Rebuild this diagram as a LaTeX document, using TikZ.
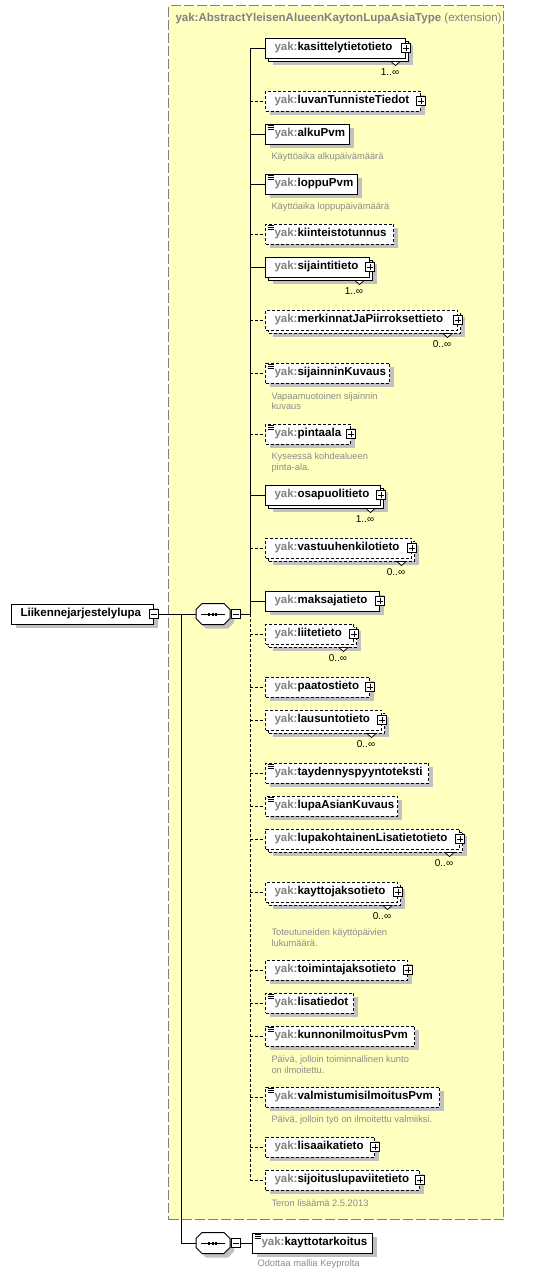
\documentclass[tikz,border=0pt]{standalone}
\usepackage{fontspec}
\setmainfont{Liberation Sans}
\usepackage{xcolor}
\usetikzlibrary{positioning}

\definecolor{nsgray}{HTML}{808080}
\definecolor{docgray}{HTML}{8C8C8C}
\definecolor{extyellow}{HTML}{FFFFC0}
\definecolor{shadowgray}{HTML}{C0C0C0}

\newlength\pix
\setlength\pix{0.75pt}
\newcommand\yak[2]{\hbox to #1\pix{\hskip9\pix\textcolor{nsgray}{yak:}#2\hfil}}

\begin{document}
\begin{tikzpicture}[x=0.75pt, y=-0.75pt, line width=0.75pt,
    boxshade/.style = {preaction={draw=none, fill=shadowgray,
                                  transform canvas={shift={(4,4)}}}},
    elem/.style = {rectangle, draw, fill=white, anchor=west, inner sep=0pt,
                   minimum height=15pt, boxshade,
                   font=\fontsize{8.65}{10}\selectfont\bfseries},
    opt/.style = {dash pattern=on 2.25pt off 1.5pt},
    stacked/.style = {preaction={draw=none, fill=shadowgray,
                                 transform canvas={shift={(7,7)}}},
                      preaction={draw, fill=white,
                                 transform canvas={shift={(3,3)}}}},
    simple/.style = {path picture={
        \foreach \k in {1,2,3}
            \draw[line width=0.6pt, solid]
                ([shift={(2,\k*1.7)}]path picture bounding box.north west) -- ++(6,0);}},
    iconbox/.style = {rectangle, draw, solid, fill=white, minimum size=6.75pt,
                      inner sep=0pt, line width=0.6pt},
    plusbox/.style = {iconbox, path picture={
        \draw ([xshift=-2.25pt]path picture bounding box.center)
           -- ([xshift=2.25pt]path picture bounding box.center);
        \draw ([yshift=-2.25pt]path picture bounding box.center)
           -- ([yshift=2.25pt]path picture bounding box.center);}},
    minusbox/.style = {iconbox, path picture={
        \draw ([xshift=-2.25pt]path picture bounding box.center)
           -- ([xshift=2.25pt]path picture bounding box.center);}},
    seq/.style = {rectangle, minimum width=24.75pt, minimum height=15pt, inner sep=0pt},
    doc/.style = {anchor=west, align=left, inner sep=0pt, text=docgray,
                  font=\fontsize{7}{8}\selectfont},
    mult/.style = {inner sep=0pt, font=\fontsize{7.5}{9}\selectfont},
    extbox/.style = {draw=nsgray, fill=extyellow, dash pattern=on 7.5pt off 2.25pt,
                     anchor=north west, inner sep=0pt},
    every edge/.style = {draw},
                        ]
    \useasboundingbox (0,0) rectangle (545,1275);

    % extension frame
    \node (ext) [extbox, minimum width=251.25pt, minimum height=910.5pt] at (168,5) {};
    \node (extTitle) [anchor=west, inner sep=0pt, text=nsgray,
                      font=\fontsize{8.65}{10}\selectfont] at (175,19)
          {\textbf{yak:AbstractYleisenAlueenKaytonLupaAsiaType} (extension)};

    % root and compositors
    \node (root) [elem] at (11,614)
          {\hbox to 142\pix{\hskip9\pix Liikennejarjestelylupa\hfil}};
    \node (rootMinus) [minusbox] at (root.east) {};
    \node (seq1) [seq] at (213,614) {};
    \node (seq2) [seq] at (213,1243) {};
    \foreach \s in {seq1,seq2} {
        \draw[fill=white, boxshade]
            ([shift={(6,0)}]\s.north west) -- ([shift={(-6,0)}]\s.north east)
         -- ([shift={(0,6)}]\s.north east) -- ([shift={(0,-6)}]\s.south east)
         -- ([shift={(-6,0)}]\s.south east) -- ([shift={(6,0)}]\s.south west)
         -- ([shift={(0,-6)}]\s.south west) -- ([shift={(0,6)}]\s.north west) -- cycle;
        \draw ([shift={(-12,0)}]\s.center) -- ([shift={(12,0)}]\s.center);
        \foreach \dx in {-4,-0.5,3}
            \fill ([shift={(\dx,0)}]\s.center) +(-1,-1.5) rectangle +(1,1.5);
    }
    \node (seq1Minus) [minusbox, right=0.9pt of seq1] {};
    \node (seq2Minus) [minusbox, right=0.9pt of seq2] {};
    \node (kayttoTark) [elem, simple] at (252,1243) {\yak{120}{kayttotarkoitus}};
    \node (kayttoTarkDoc) [doc] at (257,1264) {Odottaa mallia Keyprolta};

    % children of the sequence
    \node (kasitt)   [elem, stacked]      at (265,48)   {\yak{140}{kasittelytietotieto}};
    \node (luvan)    [elem, opt]          at (265,101)  {\yak{155}{luvanTunnisteTiedot}};
    \node (alku)     [elem, simple]       at (265,134)  {\yak{84}{alkuPvm}};
    \node (loppu)    [elem, simple]       at (265,184)  {\yak{92}{loppuPvm}};
    \node (kiint)    [elem, opt, simple]  at (265,234)  {\yak{128}{kiinteistotunnus}};
    \node (sijaint)  [elem, stacked]      at (265,267)  {\yak{104}{sijaintitieto}};
    \node (merk)     [elem, opt, stacked] at (265,320)  {\yak{192}{merkinnatJaPiirroksettieto}};
    \node (sijKuv)   [elem, opt, simple]  at (265,373)  {\yak{124}{sijainninKuvaus}};
    \node (pinta)    [elem, opt, simple]  at (265,434)  {\yak{85}{pintaala}};
    \node (osap)     [elem, stacked]      at (265,495)  {\yak{115}{osapuolitieto}};
    \node (vastuu)   [elem, opt, stacked] at (265,548)  {\yak{146}{vastuuhenkilotieto}};
    \node (maksaja)  [elem]               at (265,601)  {\yak{114}{maksajatieto}};
    \node (liite)    [elem, opt, stacked] at (265,634)  {\yak{88}{liitetieto}};
    \node (paatos)   [elem, opt]          at (265,687)  {\yak{104}{paatostieto}};
    \node (lausunto) [elem, opt, stacked] at (265,720)  {\yak{116}{lausuntotieto}};
    \node (tayd)     [elem, opt, simple]  at (265,773)  {\yak{163}{taydennyspyyntoteksti}};
    \node (lupaKuv)  [elem, opt, simple]  at (265,806)  {\yak{132}{lupaAsianKuvaus}};
    \node (lupaLisa) [elem, opt, stacked] at (265,839)  {\yak{194}{lupakohtainenLisatietotieto}};
    \node (jakso)    [elem, opt, stacked] at (265,892)  {\yak{132}{kayttojaksotieto}};
    \node (toim)     [elem, opt]          at (265,970)  {\yak{142}{toimintajaksotieto}};
    \node (lisat)    [elem, opt, simple]  at (265,1003) {\yak{88}{lisatiedot}};
    \node (kunnon)   [elem, opt, simple]  at (265,1036) {\yak{149}{kunnonilmoitusPvm}};
    \node (valm)     [elem, opt, simple]  at (265,1097) {\yak{174}{valmistumisilmoitusPvm}};
    \node (lisaaika) [elem, opt]          at (265,1147) {\yak{109}{lisaaikatieto}};
    \node (sijoitus) [elem, opt]          at (265,1180) {\yak{154}{sijoituslupaviitetieto}};

    % expand icons and occurrence marks
    \foreach \n in {kasitt,luvan,sijaint,merk,pinta,osap,vastuu,maksaja,liite,paatos,
                    lausunto,lupaLisa,jakso,toim,lisaaika,sijoitus}
        \node (\n Plus) [plusbox] at (\n.east) {};
    \foreach \n in {kasitt,sijaint,merk,osap,vastuu,liite,lausunto,lupaLisa,jakso}
        \draw[fill=white, line width=0.6pt] ([shift={(-15,3)}]\n.south east)
            -- ++(4.5,4) -- ++(4.5,-4) -- cycle;
    \node (kasittMult)   [mult] at ([shift={(-16,14)}]kasitt.south east)   {1..∞};
    \node (sijaintMult)  [mult] at ([shift={(-16,14)}]sijaint.south east)  {1..∞};
    \node (merkMult)     [mult] at ([shift={(-16,14)}]merk.south east)     {0..∞};
    \node (osapMult)     [mult] at ([shift={(-16,14)}]osap.south east)     {1..∞};
    \node (vastuuMult)   [mult] at ([shift={(-16,14)}]vastuu.south east)   {0..∞};
    \node (liiteMult)    [mult] at ([shift={(-16,14)}]liite.south east)    {0..∞};
    \node (lausuntoMult) [mult] at ([shift={(-16,14)}]lausunto.south east) {0..∞};
    \node (lupaLisaMult) [mult] at ([shift={(-16,14)}]lupaLisa.south east) {0..∞};
    \node (jaksoMult)    [mult] at ([shift={(-16,14)}]jakso.south east)    {0..∞};

    % documentation
    \node (alkuDoc)   [doc] at (271,157)    {Käyttöaika alkupäivämäärä};
    \node (loppuDoc)  [doc] at (271,207)    {Käyttöaika loppupäivämäärä};
    \node (sijKuvDoc) [doc] at (271,401)    {Vapaamuotoinen sijainnin\\kuvaus};
    \node (pintaDoc)  [doc] at (271,462.5)  {Kyseessä kohdealueen\\pinta-ala.};
    \node (jaksoDoc)  [doc] at (271,937.5)  {Toteutuneiden käyttöpäivien\\lukumäärä.};
    \node (kunnonDoc) [doc] at (271,1064.5) {Päivä, jolloin toiminnallinen kunto\\on ilmoitettu.};
    \node (valmDoc)   [doc] at (271,1120)   {Päivä, jolloin työ on ilmoitettu valmiiksi.};
    \node (sijoitusDoc) [doc] at (271,1203) {Teron lisäämä 2.5.2013};

    % connectors
    \coordinate (spine) at (250,614);
    \coordinate (branch) at (181,614);
    \draw (spine |- kasitt) -- (spine);
    \draw[opt] (spine) -- (spine |- sijoitus);
    \draw (rootMinus) -- (seq1);
    \draw (seq1Minus) -- (spine);
    \draw (branch) |- (seq2);
    \draw (seq2Minus) -- (kayttoTark);
    \draw (kasitt -| spine)   edge       (kasitt)
          (luvan -| spine)    edge [opt] (luvan)
          (alku -| spine)     edge       (alku)
          (loppu -| spine)    edge       (loppu)
          (kiint -| spine)    edge [opt] (kiint)
          (sijaint -| spine)  edge       (sijaint)
          (merk -| spine)     edge [opt] (merk)
          (sijKuv -| spine)   edge [opt] (sijKuv)
          (pinta -| spine)    edge [opt] (pinta)
          (osap -| spine)     edge       (osap)
          (vastuu -| spine)   edge [opt] (vastuu)
          (maksaja -| spine)  edge       (maksaja)
          (liite -| spine)    edge [opt] (liite)
          (paatos -| spine)   edge [opt] (paatos)
          (lausunto -| spine) edge [opt] (lausunto)
          (tayd -| spine)     edge [opt] (tayd)
          (lupaKuv -| spine)  edge [opt] (lupaKuv)
          (lupaLisa -| spine) edge [opt] (lupaLisa)
          (jakso -| spine)    edge [opt] (jakso)
          (toim -| spine)     edge [opt] (toim)
          (lisat -| spine)    edge [opt] (lisat)
          (kunnon -| spine)   edge [opt] (kunnon)
          (valm -| spine)     edge [opt] (valm)
          (lisaaika -| spine) edge [opt] (lisaaika)
          (sijoitus -| spine) edge [opt] (sijoitus);
\end{tikzpicture}
\end{document}
